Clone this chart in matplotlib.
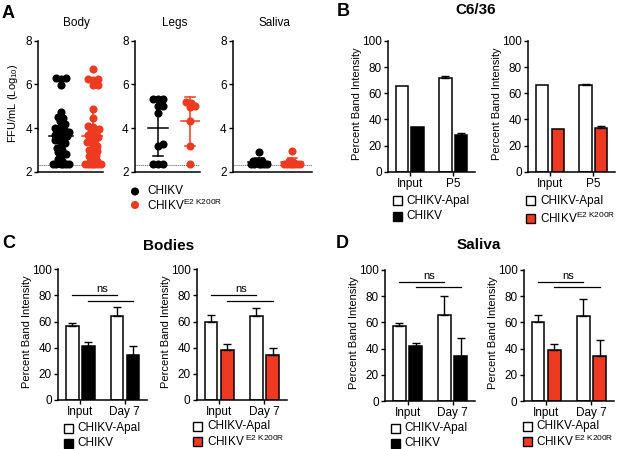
import numpy as np
import matplotlib
matplotlib.use('Agg')
import matplotlib.pyplot as plt
from matplotlib.patches import Rectangle

plt.rcParams['font.family'] = ['Liberation Sans', 'DejaVu Sans']
plt.rcParams['mathtext.fontset'] = 'custom'
plt.rcParams['mathtext.rm'] = 'Liberation Sans'
plt.rcParams['mathtext.it'] = 'Liberation Sans:italic'
plt.rcParams['mathtext.bf'] = 'Liberation Sans:bold'

# ---------------- data ----------------
A_titles = ['Body', 'Legs', 'Saliva']
LOD = 2.3
body_chikv = [6.3, 6.3, 6.25, 5.95, 4.75, 4.5, 4.45, 4.3, 4.2, 4.1, 4.0, 3.95, 3.9, 3.8,
              3.75, 3.7, 3.65, 3.6, 3.5, 3.45, 3.4, 3.3, 3.2, 3.1, 3.0, 2.9, 2.8, 2.75,
              2.6, 2.5, 2.4, 2.35, 2.35, 2.35, 2.35, 2.35, 2.35]
body_mut = [6.7, 6.25, 6.25, 6.2, 5.95, 5.95, 4.85, 4.45, 4.1, 4.05, 3.95, 3.85, 3.8, 3.7,
            3.65, 3.6, 3.5, 3.45, 3.35, 3.3, 3.2, 3.1, 3.0, 2.95, 2.85, 2.75, 2.7, 2.6,
            2.5, 2.45, 2.4, 2.35, 2.35, 2.35, 2.35, 2.35, 2.35, 2.35]
legs_chikv = [5.35, 5.35, 5.35, 5.0, 5.0, 4.7, 3.25, 3.2, 2.35, 2.35, 2.35]
legs_mut = [5.2, 5.15, 5.0, 4.95, 4.3, 3.2, 2.35]
saliva_chikv = [2.9, 2.5, 2.5, 2.45, 2.35, 2.35, 2.35, 2.35, 2.35, 2.35]
saliva_mut = [2.95, 2.5, 2.45, 2.35, 2.35, 2.35, 2.35, 2.35, 2.35, 2.35]

B_cats = ['Input', 'P5']
B1_apai = [65.4, 71.8]; B1_apai_err = [0, 1.5]
B1_chikv = [34.4, 28.0]; B1_chikv_err = [0, 1.8]
B2_apai = [66.7, 66.2]; B2_apai_err = [0, 1.2]
B2_mut = [33.0, 33.8]; B2_mut_err = [0, 1.1]

CD_cats = ['Input', 'Day 7']
C1_apai = [56.9, 64.3]; C1_apai_err = [2.3, 7.1]
C1_chikv = [41.6, 34.4]; C1_chikv_err = [2.5, 6.9]
C2_apai = [60.0, 64.5]; C2_apai_err = [5.0, 6.2]
C2_mut = [38.3, 34.4]; C2_mut_err = [4.6, 5.6]
D1_apai = [57.4, 65.6]; D1_apai_err = [2.3, 14.5]
D1_chikv = [42.1, 34.2]; D1_chikv_err = [2.5, 14.0]
D2_apai = [60.5, 65.0]; D2_apai_err = [5.1, 12.8]
D2_mut = [38.8, 34.2]; D2_mut_err = [4.6, 12.7]
C_ns = [80, 76]
D_ns = [90.6, 87.2]

RED = '#EF3A22'
W, H = 617, 449
fig = plt.figure(figsize=(W / 100, H / 100), dpi=100)
fig.patch.set_facecolor('white')


def fx(x):
    return x / W


def fy(y):
    return 1 - y / H


def add_ax(l, r, t, b):
    return fig.add_axes([l / W, 1 - b / H, (r - l) / W, (b - t) / H])


def style(ax):
    for s in ['top', 'right']:
        ax.spines[s].set_visible(False)
    for s in ['left', 'bottom']:
        ax.spines[s].set_linewidth(1.1)
    ax.tick_params(direction='out', length=3, width=1.0, labelsize=8.5, pad=1.5)
    ax.set_facecolor('none')


def swarm_x(ax, center, vals, d_px, max_px=8.0, min_frac=0.55, step_px=1.0):
    """Beeswarm offsets limited to +-max_px; overlap allowed when crowded."""
    trans = ax.transData
    inv = trans.inverted()
    x0 = trans.transform((center, 0))[0]
    vals = np.asarray(vals)
    xs = np.zeros(len(vals))
    placed = []
    cands = [0.0]
    k = 1
    while k * step_px <= max_px:
        cands += [k * step_px, -k * step_px]
        k += 1
    for i in np.argsort(vals):
        ypx = trans.transform((center, vals[i]))[1]
        best, best_d = 0.0, -1.0
        chosen = None
        for c in cands:
            dmin = min([np.hypot(c - px, ypx - py) for px, py in placed] + [1e9])
            if dmin >= min_frac * d_px:
                chosen = c
                break
            if dmin > best_d + 1e-6:
                best, best_d = c, dmin
        if chosen is None:
            chosen = best
        placed.append((chosen, ypx))
        xs[i] = inv.transform((x0 + chosen, ypx))[0]
    return xs


# overlay axes in pixel coordinates for legend marks
ax_leg = fig.add_axes([0, 0, 1, 1], facecolor='none', zorder=5)
ax_leg.set_xlim(0, W)
ax_leg.set_ylim(H, 0)
ax_leg.axis('off')

DOT = 34

# ---------------- panel A ----------------
A_boxes = [(38.3, 103), (135, 200), (233, 312)]
A_xlims = [(-0.7, 1.3), (-0.7, 1.3), (-0.8, 1.6)]
A_data = [(body_chikv, body_mut), (legs_chikv, legs_mut), (saliva_chikv, saliva_mut)]
A_mw = [0.72, 0.6, 0.67]
A_cw = [0.0, 0.3, 0.26]
A_title_x = [76, 174.5, 274]
for i in range(3):
    l, r = A_boxes[i]
    ax = add_ax(l, r, 40.7, 171.7)
    style(ax)
    ax.set_xlim(*A_xlims[i])
    ax.set_ylim(2, 8)
    ax.set_yticks([2, 4, 6, 8])
    ax.set_xticks([])
    ax.axhline(LOD, color='#555555', ls=(0, (1, 1)), lw=0.7, zorder=1)
    for g, (vals, col) in enumerate(zip(A_data[i], ['black', RED])):
        xs = swarm_x(ax, g, vals, 8.0)
        ax.scatter(xs, vals, s=DOT, color=col, lw=0, zorder=2, clip_on=False)
        m = np.mean(vals)
        sd = np.std(vals, ddof=1)
        ax.plot([g - A_mw[i] / 2, g + A_mw[i] / 2], [m, m], color=col, lw=1.1, zorder=3)
        ax.plot([g, g], [m - sd, m + sd], color=col, lw=1.1, zorder=3)
        if A_cw[i] > 0:
            for yy in (m - sd, m + sd):
                ax.plot([g - A_cw[i] / 2, g + A_cw[i] / 2], [yy, yy], color=col, lw=1.1, zorder=3)
    fig.text(fx(A_title_x[i]), fy(23), A_titles[i], ha='center', va='center', fontsize=8.5)

fig.text(fx(13), fy(103), 'FFU/mL (Log$_{10}$)', rotation=90, ha='center', va='center', fontsize=8)
fig.text(fx(8.5), fy(13.5), 'A', ha='center', va='center', fontsize=13, fontweight='bold')

# legend A
ax_leg.scatter([135, 135], [191.5, 205], s=DOT, color=['black', RED], lw=0)
fig.text(fx(147), fy(191.5), 'CHIKV', ha='left', va='center', fontsize=8.5)
fig.text(fx(147), fy(205), 'CHIKV$^{\\mathrm{E2\\ K200R}}$', ha='left', va='center', fontsize=8.5)


# ---------------- bar panels ----------------
def bar_panel(l, r, t, b, cats, wv, we, dv, de, dcol, ns=None):
    ax = add_ax(l, r, t, b)
    style(ax)
    x = np.arange(len(cats))
    bw = 0.28
    ax.bar(x - 0.18, wv, bw, color='white', edgecolor='black', lw=1.1, zorder=2)
    ax.bar(x + 0.18, dv, bw, color=dcol, edgecolor='black', lw=1.1, zorder=2)
    for xi, v, e in list(zip(x - 0.18, wv, we)) + list(zip(x + 0.18, dv, de)):
        if e > 0:
            ax.errorbar([xi], [v], yerr=[[0], [e]], fmt='none', ecolor='black',
                        elinewidth=1.0, capsize=3, capthick=1.0, zorder=3)
    ax.set_xlim(-0.5, 1.5)
    ax.set_ylim(0, 100)
    ax.set_yticks([0, 20, 40, 60, 80, 100])
    ax.set_xticks(x)
    ax.set_xticklabels(cats)
    if ns is not None:
        ax.plot([-0.18, 0.82], [ns[0], ns[0]], color='black', lw=0.9, clip_on=False)
        ax.plot([0.18, 1.18], [ns[1], ns[1]], color='black', lw=0.9, clip_on=False)
        ax.text(0.48, ns[0] + 1.2, 'ns', ha='center', va='bottom', fontsize=8)
    fig.text(fx(l - 31), fy((t + b) / 2 - 3), 'Percent Band Intensity', rotation=90,
             ha='center', va='center', fontsize=8)
    return ax


def legend(x_sq, x_txt, y1, y2, dcol, label2):
    s = 9
    ax_leg.add_patch(Rectangle((x_sq, y1 - s / 2), s, s, facecolor='white', edgecolor='black', lw=1.0))
    ax_leg.add_patch(Rectangle((x_sq, y2 - s / 2), s, s, facecolor=dcol, edgecolor='black', lw=1.0))
    fig.text(fx(x_txt), fy(y1), 'CHIKV-ApaI', ha='left', va='center', fontsize=8.5)
    fig.text(fx(x_txt), fy(y2), label2, ha='left', va='center', fontsize=8.5)


MUT1 = 'CHIKV$^{\\mathrm{E2\\ K200R}}$'
MUT2 = 'CHIKV$^{\\mathrm{\\ E2\\ K200R}}$'

# B
bar_panel(388, 475, 41, 171.7, B_cats, B1_apai, B1_apai_err, B1_chikv, B1_chikv_err, 'black')
bar_panel(528.3, 615, 41, 171.7, B_cats, B2_apai, B2_apai_err, B2_mut, B2_mut_err, RED)
legend(392.5, 406.5, 200.5, 216, 'black', 'CHIKV')
legend(526, 540, 200.5, 218, RED, MUT1)
fig.text(fx(476), fy(10.5), 'C6/36', ha='center', va='center', fontsize=11, fontweight='bold')
fig.text(fx(343.5), fy(11), 'B', ha='center', va='center', fontsize=13, fontweight='bold')

# C
bar_panel(58.3, 147, 269.3, 400, CD_cats, C1_apai, C1_apai_err, C1_chikv, C1_chikv_err, 'black', C_ns)
bar_panel(196.7, 287, 269.3, 400, CD_cats, C2_apai, C2_apai_err, C2_mut, C2_mut_err, RED, C_ns)
legend(63.5, 77.5, 428, 443, 'black', 'CHIKV')
legend(193, 207, 426, 441, RED, MUT2)
fig.text(fx(168.3), fy(246.5), 'Bodies', ha='center', va='center', fontsize=11, fontweight='bold')
fig.text(fx(8.5), fy(243.5), 'C', ha='center', va='center', fontsize=13, fontweight='bold')

# D
bar_panel(385, 475, 270, 401, CD_cats, D1_apai, D1_apai_err, D1_chikv, D1_chikv_err, 'black', D_ns)
bar_panel(523.7, 614, 270, 401, CD_cats, D2_apai, D2_apai_err, D2_mut, D2_mut_err, RED, D_ns)
legend(390.5, 404.5, 428, 443, 'black', 'CHIKV')
legend(522.5, 536, 426, 441, RED, MUT2)
fig.text(fx(478.5), fy(245), 'Saliva', ha='center', va='center', fontsize=11, fontweight='bold')
fig.text(fx(342.5), fy(244), 'D', ha='center', va='center', fontsize=13, fontweight='bold')

fig.savefig('out.png', dpi=100, facecolor='white')
